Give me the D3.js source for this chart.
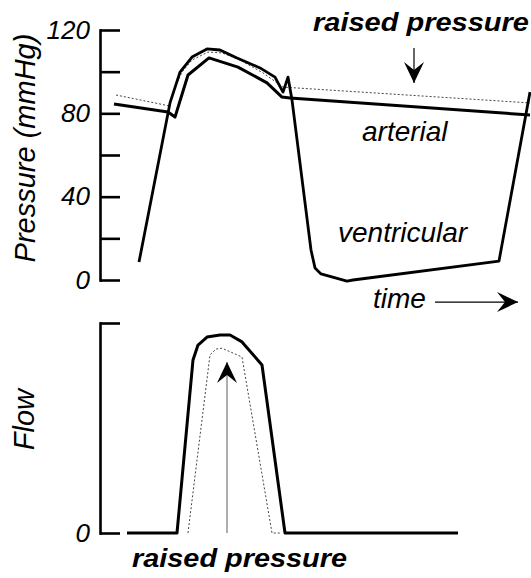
<!DOCTYPE html>
<html>
<head>
<meta charset="UTF-8">
<title>Pressure and flow</title>
<script src="https://d3js.org/d3.v7.min.js"></script>
<style>
  body { margin: 0; background: #fff; }
  text { font-family: "Liberation Sans", Arial, Helvetica, sans-serif; }
</style>
</head>
<body>
<script>
// time is in arbitrary units, shared by both panels

// pressure panel (mmHg)
var ventT = [39, 70, 80, 92, 107, 120, 137, 160, 175, 183, 188, 192, 211, 215, 221, 247, 253, 399, 430];
var ventP = [8.6, 85, 99.8, 107, 110.9, 110.4, 106.6, 101.8, 97.4, 90.2, 97.4, 86.4, 14.4, 5.8, 2.9, -0.5, 0, 9.1, 90.2];

var artT = [14, 68, 75, 88, 109, 138, 167, 182, 190, 430];
var artP = [84.5, 80.6, 78.2, 98.4, 106.6, 102.2, 94.6, 87.8, 87.4, 79.2];

var raisedT = [16, 70, 73, 82, 92, 108, 122, 140, 163, 183, 430];
var raisedP = [88.8, 83.5, 90.2, 99.8, 105.6, 109.4, 109, 105.6, 99.4, 92.6, 85];

// flow panel (arbitrary units)
var flowT = [27, 77, 93, 98, 107, 120, 130, 142, 162, 185, 358];
var flowV = [0, 0, 82.4, 89.5, 93.3, 94.3, 94.3, 91, 80, 0, 0];

var flowRaisedT = [88, 110, 116, 122, 142, 172, 181];
var flowRaisedV = [0, 84.8, 87.6, 88, 83.8, 0, 0];

var pTicks = [0, 20, 40, 60, 80, 100, 120];
var pLabels = [0, 40, 80, 120];
var fTicks = [0, 100];
var fLabels = [0];

var width = 531, height = 578;

var svg = d3.select("body").append("svg")
    .attr("width", width)
    .attr("height", height);

var defs = svg.append("defs");
defs.append("marker")
    .attr("id", "head")
    .attr("markerUnits", "userSpaceOnUse")
    .attr("viewBox", "-22 -11 24 22")
    .attr("refX", 0).attr("refY", 0)
    .attr("markerWidth", 24).attr("markerHeight", 22)
    .attr("orient", "auto")
  .append("path")
    .attr("d", "M0,0L-21,-10L-13,0L-21,10Z")
    .attr("fill", "#000");

var x = d3.scaleLinear().domain([0, 430]).range([100, 530]);
var yP = d3.scaleLinear().domain([0, 120]).range([280, 30]);
var yF = d3.scaleLinear().domain([0, 100]).range([533, 323]);

function pts(ts, vs) { return ts.map(function(t, i) { return [t, vs[i]]; }); }

var lineP = d3.line().x(function(d) { return x(d[0]); }).y(function(d) { return yP(d[1]); });
var lineF = d3.line().x(function(d) { return x(d[0]); }).y(function(d) { return yF(d[1]); });

function styleAxis(g) {
  g.attr("font-size", 26).attr("font-style", "italic")
   .attr("font-family", "'Liberation Sans', Arial, Helvetica, sans-serif");
  g.select(".domain").attr("stroke", "#000").attr("stroke-width", 2.6).attr("stroke-linecap", "square");
  g.selectAll(".tick line").attr("stroke", "#000").attr("stroke-width", 2.6);
  g.selectAll(".tick text").attr("fill", "#000");
}

// axes
svg.append("g")
    .attr("transform", "translate(" + x(0) + ",0)")
    .call(d3.axisLeft(yP).tickValues(pTicks).tickSize(-20).tickSizeOuter(0).tickPadding(10)
      .tickFormat(function(d) { return pLabels.indexOf(d) >= 0 ? d : ""; }))
    .call(styleAxis);

svg.append("g")
    .attr("transform", "translate(" + x(0) + ",0)")
    .call(d3.axisLeft(yF).tickValues(fTicks).tickSize(-20).tickSizeOuter(0).tickPadding(10)
      .tickFormat(function(d) { return fLabels.indexOf(d) >= 0 ? d : ""; }))
    .call(styleAxis);

// axis titles
svg.append("text")
    .attr("transform", "translate(35," + (yP(60) - 7) + ") rotate(-90)")
    .attr("text-anchor", "middle")
    .attr("font-size", 29).attr("font-style", "italic")
    .text("Pressure (mmHg)");

svg.append("text")
    .attr("transform", "translate(34," + yF(54) + ") rotate(-90)")
    .attr("text-anchor", "middle")
    .attr("font-size", 29).attr("font-style", "italic")
    .text("Flow");

// pressure curves
svg.append("path")
    .attr("d", lineP(pts(raisedT, raisedP)))
    .attr("fill", "none").attr("stroke", "#444")
    .attr("stroke-width", 1).attr("stroke-dasharray", "2,2");

svg.append("path")
    .attr("d", lineP(pts(artT, artP)))
    .attr("fill", "none").attr("stroke", "#000")
    .attr("stroke-width", 3).attr("stroke-linejoin", "round");

svg.append("path")
    .attr("d", lineP(pts(ventT, ventP)))
    .attr("fill", "none").attr("stroke", "#000")
    .attr("stroke-width", 2.8).attr("stroke-linejoin", "round");

// flow curves
svg.append("path")
    .attr("d", lineF(pts(flowRaisedT, flowRaisedV)))
    .attr("fill", "none").attr("stroke", "#444")
    .attr("stroke-width", 1).attr("stroke-dasharray", "2,2");

svg.append("path")
    .attr("d", lineF(pts(flowT, flowV)))
    .attr("fill", "none").attr("stroke", "#000")
    .attr("stroke-width", 3).attr("stroke-linejoin", "round");

// arrows
svg.append("line")
    .attr("x1", x(314)).attr("y1", yP(111.4))
    .attr("x2", x(314)).attr("y2", yP(94.6))
    .attr("stroke", "#000").attr("stroke-width", 1.2)
    .attr("marker-end", "url(#head)");

svg.append("line")
    .attr("x1", x(335)).attr("y1", yP(-10.6))
    .attr("x2", x(418)).attr("y2", yP(-10.6))
    .attr("stroke", "#000").attr("stroke-width", 1.2)
    .attr("marker-end", "url(#head)");

svg.append("line")
    .attr("x1", x(127)).attr("y1", yF(0))
    .attr("x2", x(127)).attr("y2", yF(81.4))
    .attr("stroke", "#777").attr("stroke-width", 1.2)
    .attr("marker-end", "url(#head)");

// labels
svg.append("text")
    .attr("x", 313).attr("y", 31)
    .attr("font-size", 25).attr("font-weight", "bold").attr("font-style", "italic")
    .attr("textLength", 216).attr("lengthAdjust", "spacingAndGlyphs")
    .text("raised pressure");

svg.append("text")
    .attr("x", 132).attr("y", 567)
    .attr("font-size", 25).attr("font-weight", "bold").attr("font-style", "italic")
    .attr("textLength", 215).attr("lengthAdjust", "spacingAndGlyphs")
    .text("raised pressure");

svg.append("text")
    .attr("x", 362).attr("y", 141)
    .attr("font-size", 28).attr("font-style", "italic")
    .text("arterial");

svg.append("text")
    .attr("x", 338).attr("y", 242)
    .attr("font-size", 28).attr("font-style", "italic")
    .text("ventricular");

svg.append("text")
    .attr("x", 373).attr("y", 308)
    .attr("font-size", 28).attr("font-style", "italic")
    .text("time");
</script>
</body>
</html>
